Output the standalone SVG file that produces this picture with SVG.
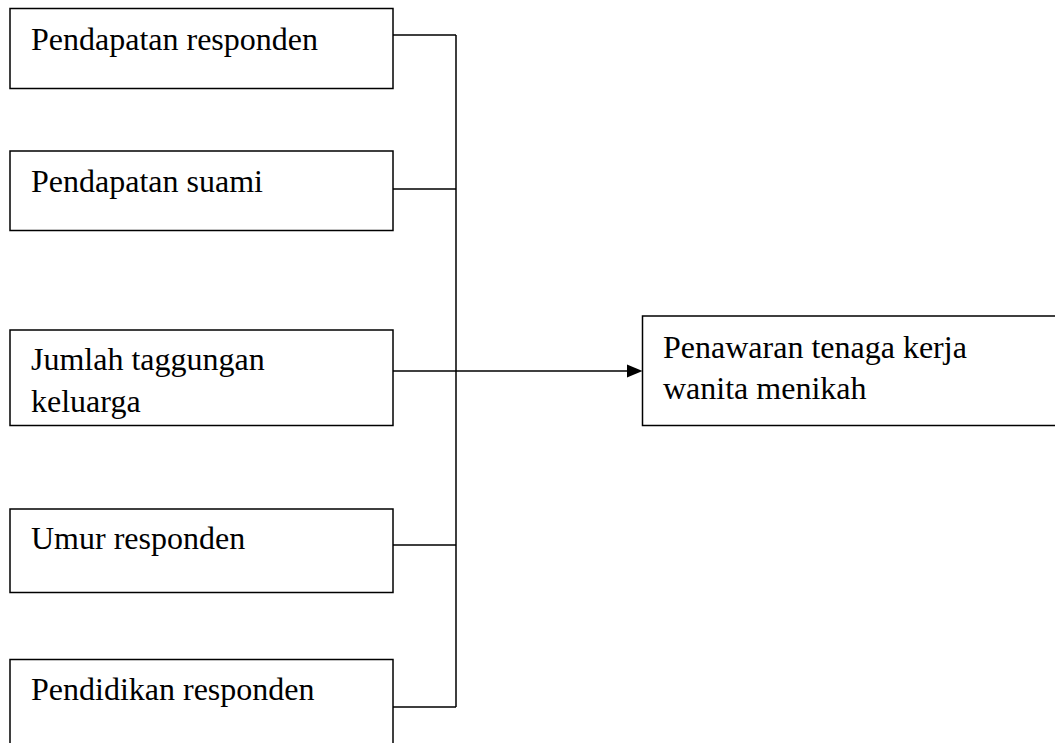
<svg xmlns="http://www.w3.org/2000/svg" width="1055" height="743" viewBox="0 0 1055 743">
<style>
.box{fill:#fff;stroke:#000;stroke-width:1.5}
.lbl{font-family:"Liberation Serif","Times New Roman",serif;font-size:32px;fill:#000}
.con{fill:none;stroke:#000;stroke-width:1.5}
</style>
<defs>
<clipPath id="c3"><rect x="10" y="330" width="383" height="95"/></clipPath>
</defs>
<rect width="1055" height="743" fill="#fff"/>
<g id="n1"><rect class="box" x="10" y="8.5" width="383" height="80"/><text class="lbl" x="31" y="49.5">Pendapatan responden</text></g>
<g id="n2"><rect class="box" x="10" y="151" width="383" height="79.5"/><text class="lbl" x="31" y="192">Pendapatan suami</text></g>
<g id="n3"><rect class="box" x="10" y="330" width="383" height="95.5"/><g clip-path="url(#c3)"><text class="lbl" x="31" y="369.5">Jumlah taggungan</text><text class="lbl" x="31" y="411.5">keluarga</text></g></g>
<g id="n4"><rect class="box" x="10" y="509" width="383" height="83.5"/><text class="lbl" x="31" y="549">Umur responden</text></g>
<g id="n5"><rect class="box" x="10" y="659.5" width="383" height="100"/><text class="lbl" x="31" y="699.5">Pendidikan responden</text></g>
<g id="n6"><rect class="box" x="642.5" y="316" width="430" height="109.5"/><text class="lbl" x="663" y="357.5">Penawaran tenaga kerja</text><text class="lbl" x="663" y="398.5">wanita menikah</text></g>
<g id="connectors">
<path class="con" d="M393 35H456M393 189H456M393 545H456M393 707H456M456 35V707"/>
<path class="con" d="M393 371H628"/>
<polygon points="642.5,371 627,364.5 627,377.5" fill="#000"/>
</g>
</svg>
